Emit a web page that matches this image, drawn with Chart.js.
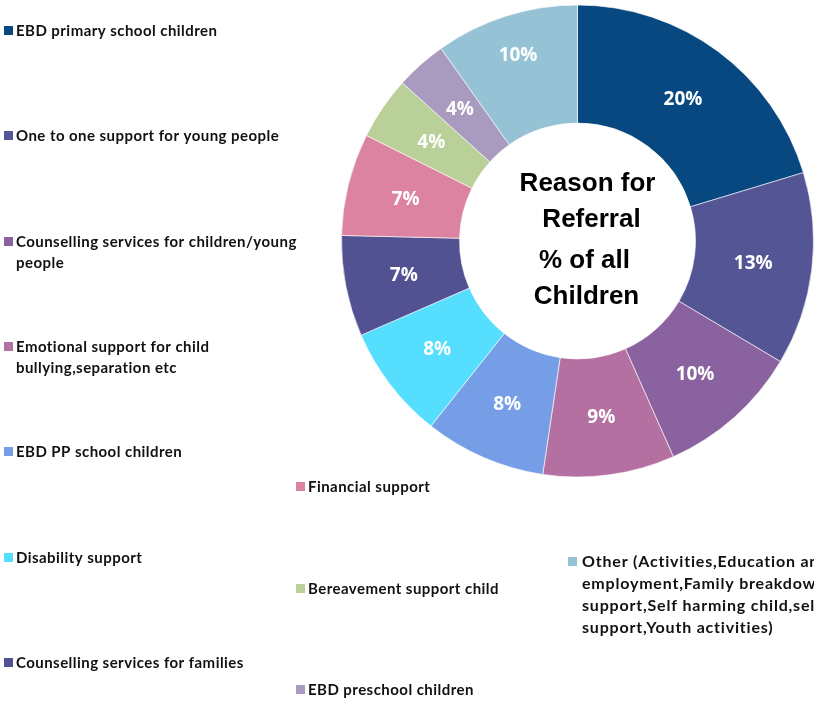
<!DOCTYPE html>
<html>
<head>
<meta charset="utf-8">
<script src="https://cdn.jsdelivr.net/npm/chart.js@4/dist/chart.umd.min.js"></script>
<style>
  html, body { margin: 0; padding: 0; background: #fff; }
  #wrap { width: 814px; height: 702px; position: relative; }
</style>
</head>
<body>
<div id="wrap"><canvas id="referralChart" width="814" height="702"></canvas></div>
<script>
// reason for referral, share of all children (%)
const categories = [
    'EBD primary school children',
    'One to one support for young people',
    'Counselling services for children/young people',
    'Emotional support for child bullying,separation etc',
    'EBD PP school children',
    'Disability support',
    'Counselling services for families',
    'Financial support',
    'Bereavement support child',
    'EBD preschool children',
    'Other (Activities,Education and employment,Family breakdown support,Self harming child,self help support,Youth activities)'
];
const shares = [20.3, 13.2, 9.8, 9.0, 8.3, 7.8, 6.9, 7.0, 4.3, 3.5, 9.8];
const centerLines = ['Reason for', 'Referral', '% of all', 'Children'];

const sliceColors = [
    '#06487f', '#535595', '#8a62a0', '#b570a2', '#769ee6', '#55defe',
    '#525293', '#dc83a1', '#b9d098', '#a99bc0', '#95c3d5'
];

// excel nudged the last label outwards
const labelShift = [0, 0, 0, 0, 0, 0, 0, 0, 0, 0, 19];

// legend layout: where each entry goes and how its text wraps (Excel style)
const legendLayout = [
    { x: 4, y: 31, lines: ['EBD primary school children'] },
    { x: 4, y: 136, lines: ['One to one support for young people'] },
    { x: 4, y: 242, lines: ['Counselling services for children/young', 'people'] },
    { x: 4, y: 347, lines: ['Emotional support for child', 'bullying,separation etc'] },
    { x: 4, y: 452, lines: ['EBD PP school children'] },
    { x: 4, y: 558, lines: ['Disability support'] },
    { x: 4, y: 663, lines: ['Counselling services for families'] },
    { x: 296, y: 487, lines: ['Financial support'] },
    { x: 296, y: 589, lines: ['Bereavement support child'] },
    { x: 296, y: 690, lines: ['EBD preschool children'] },
    { x: 568, y: 562, lines: ['Other (Activities,Education and', 'employment,Family breakdown', 'support,Self harming child,self help', 'support,Youth activities)'],
      lineHeight: 22, font: 'bold 16px Lato', spacing: '0.8px', textX: 14 }
];

const sliceLabels = {
    id: 'sliceLabels',
    afterDatasetsDraw(chart) {
        const ctx = chart.ctx;
        const arcs = chart.getDatasetMeta(0).data;
        ctx.save();
        ctx.fillStyle = '#fff';
        ctx.font = 'bold 19px "Open Sans"';
        ctx.textAlign = 'center';
        ctx.textBaseline = 'middle';
        arcs.forEach((arc, i) => {
            const pos = arc.tooltipPosition();
            const mid = (arc.startAngle + arc.endAngle) / 2;
            const x = pos.x + Math.cos(mid) * labelShift[i];
            const y = pos.y + Math.sin(mid) * labelShift[i];
            ctx.fillText(Math.round(shares[i]) + '%', x, y + 1);
        });
        ctx.restore();
    }
};

const centerText = {
    id: 'centerText',
    afterDraw(chart) {
        const ctx = chart.ctx;
        const arc = chart.getDatasetMeta(0).data[0];
        const offsets = [[10, -57], [14, -21], [7, 20], [9, 56]];
        ctx.save();
        ctx.fillStyle = '#000';
        ctx.font = 'bold 26px "Liberation Sans", Arial';
        ctx.textAlign = 'center';
        ctx.textBaseline = 'middle';
        centerLines.forEach((line, i) => {
            ctx.fillText(line, arc.x + offsets[i][0], arc.y + offsets[i][1]);
        });
        ctx.restore();
    }
};

const scatteredLegend = {
    id: 'scatteredLegend',
    afterDraw(chart) {
        const ctx = chart.ctx;
        ctx.save();
        ctx.textBaseline = 'middle';
        ctx.textAlign = 'left';
        legendLayout.forEach((item, i) => {
            const lh = item.lineHeight || 21;
            ctx.font = item.font || 'bold 15px Lato';
            ctx.letterSpacing = item.spacing || '0.45px';
            ctx.fillStyle = sliceColors[i];
            ctx.fillRect(item.x, item.y - 5, 9, 9);
            ctx.fillStyle = '#111';
            item.lines.forEach((line, j) => {
                ctx.fillText(line, item.x + (item.textX || 12), item.y + j * lh);
            });
        });
        ctx.restore();
    }
};

new Chart(document.getElementById('referralChart'), {
    type: 'doughnut',
    data: {
        labels: categories,
        datasets: [{
            data: shares,
            backgroundColor: sliceColors,
            borderColor: 'rgba(255,255,255,0.6)',
            borderWidth: 1
        }]
    },
    options: {
        responsive: false,
        animation: false,
        cutout: '50%',
        layout: { padding: { left: 341, top: 4, right: 0, bottom: 224 } },
        plugins: {
            legend: { display: false },
            tooltip: { enabled: false }
        }
    },
    plugins: [sliceLabels, centerText, scatteredLegend]
});
</script>
</body>
</html>
